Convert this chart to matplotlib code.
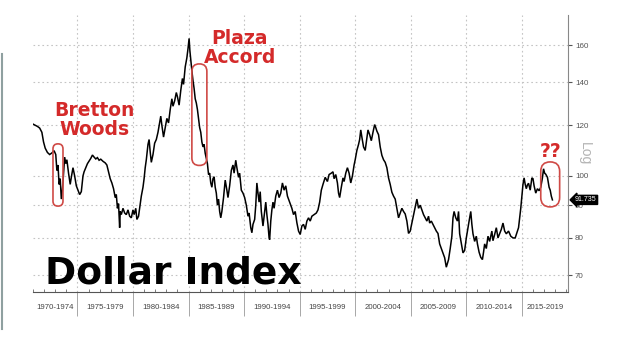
import matplotlib
matplotlib.use("Agg")
import matplotlib.pyplot as plt
import matplotlib.ticker as mticker
from matplotlib.patches import FancyBboxPatch
from matplotlib.lines import Line2D
from matplotlib.transforms import IdentityTransform

# Dollar index (DXY) readings, decimal year -> index level
years = [
    1971.0, 1971.2, 1971.4, 1971.6, 1971.8, 1971.95, 1972.1, 1972.3, 1972.5, 1972.7,
    1972.9, 1973.05, 1973.15, 1973.25, 1973.35, 1973.45, 1973.55, 1973.65, 1973.75, 1973.85,
    1973.95, 1974.05, 1974.2, 1974.35, 1974.45, 1974.6, 1974.75, 1974.9, 1975.05, 1975.2,
    1975.35, 1975.5, 1975.6, 1975.75, 1975.9, 1976.05, 1976.2, 1976.35, 1976.5, 1976.65,
    1976.8, 1976.95, 1977.1, 1977.3, 1977.5, 1977.65, 1977.8, 1977.95, 1978.1, 1978.25,
    1978.4, 1978.5, 1978.6, 1978.7, 1978.8, 1978.85, 1978.95, 1979.1, 1979.25, 1979.4,
    1979.55, 1979.7, 1979.85, 1980.0, 1980.1, 1980.25, 1980.35, 1980.5, 1980.6, 1980.75,
    1980.9, 1981.0, 1981.1, 1981.2, 1981.35, 1981.45, 1981.55, 1981.65, 1981.8, 1981.95,
    1982.1, 1982.25, 1982.4, 1982.5, 1982.6, 1982.75, 1982.9, 1983.05, 1983.2, 1983.35,
    1983.5, 1983.6, 1983.75, 1983.9, 1984.0, 1984.15, 1984.3, 1984.45, 1984.55, 1984.7,
    1984.85, 1984.95, 1985.05, 1985.12, 1985.2, 1985.3, 1985.4, 1985.5, 1985.6, 1985.7,
    1985.8, 1985.9, 1986.0, 1986.1, 1986.2, 1986.3, 1986.4, 1986.5, 1986.6, 1986.7,
    1986.8, 1986.9, 1987.0, 1987.1, 1987.2, 1987.3, 1987.4, 1987.5, 1987.6, 1987.7,
    1987.8, 1987.9, 1988.0, 1988.15, 1988.3, 1988.45, 1988.55, 1988.7, 1988.85, 1989.0,
    1989.1, 1989.25, 1989.35, 1989.5, 1989.6, 1989.75, 1989.9, 1990.05, 1990.2, 1990.35,
    1990.45, 1990.6, 1990.7, 1990.8, 1990.95, 1991.05, 1991.15, 1991.25, 1991.35, 1991.45,
    1991.55, 1991.7, 1991.8, 1991.95, 1992.05, 1992.15, 1992.25, 1992.3, 1992.4, 1992.5,
    1992.6, 1992.7, 1992.85, 1993.0, 1993.15, 1993.3, 1993.45, 1993.6, 1993.75, 1993.9,
    1994.1, 1994.3, 1994.45, 1994.6, 1994.75, 1994.9, 1995.05, 1995.2, 1995.35, 1995.5,
    1995.65, 1995.8, 1995.95, 1996.1, 1996.3, 1996.5, 1996.65, 1996.8, 1996.95, 1997.1,
    1997.3, 1997.5, 1997.65, 1997.85, 1998.0, 1998.1, 1998.25, 1998.4, 1998.5, 1998.6,
    1998.75, 1998.9, 1999.0, 1999.15, 1999.3, 1999.45, 1999.6, 1999.75, 1999.9, 2000.0,
    2000.15, 2000.3, 2000.4, 2000.5, 2000.6, 2000.75, 2000.9, 2001.0, 2001.15, 2001.3,
    2001.45, 2001.6, 2001.75, 2001.85, 2001.95, 2002.1, 2002.25, 2002.4, 2002.55, 2002.7,
    2002.85, 2003.0, 2003.15, 2003.3, 2003.45, 2003.6, 2003.75, 2003.9, 2004.05, 2004.2,
    2004.35, 2004.5, 2004.65, 2004.8, 2004.95, 2005.1, 2005.25, 2005.4, 2005.55, 2005.7,
    2005.85, 2006.0, 2006.15, 2006.3, 2006.45, 2006.6, 2006.7, 2006.85, 2007.0, 2007.15,
    2007.3, 2007.45, 2007.6, 2007.75, 2007.9, 2008.05, 2008.2, 2008.3, 2008.4, 2008.55,
    2008.7, 2008.8, 2008.9, 2009.05, 2009.2, 2009.3, 2009.4, 2009.55, 2009.7, 2009.85,
    2010.0, 2010.1, 2010.25, 2010.4, 2010.5, 2010.6, 2010.75, 2010.9, 2011.0, 2011.15,
    2011.3, 2011.45, 2011.55, 2011.65, 2011.8, 2011.95, 2012.1, 2012.3, 2012.4, 2012.55,
    2012.7, 2012.85, 2013.0, 2013.15, 2013.3, 2013.45, 2013.6, 2013.8, 2014.0, 2014.2,
    2014.4, 2014.55, 2014.7, 2014.8, 2014.9, 2015.0, 2015.1, 2015.2, 2015.3, 2015.4,
    2015.5, 2015.6, 2015.75, 2015.9, 2016.0, 2016.1, 2016.25, 2016.4, 2016.55, 2016.7,
    2016.85, 2016.95, 2017.05, 2017.15, 2017.3, 2017.45, 2017.55, 2017.65, 2017.75,
]
dxy = [
    120.5, 120.0, 119.5, 118.8, 117.0, 113.0, 110.5, 108.8, 108.0, 108.6,
    109.5, 108.0, 102.0, 104.0, 97.0, 99.0, 92.0, 95.0, 101.0, 107.0,
    104.5, 106.0, 101.0, 97.0, 99.5, 103.0, 100.0, 96.5, 95.0, 93.5,
    94.5, 100.0, 101.5, 103.0, 104.5, 105.5, 106.5, 107.8, 107.0, 106.3,
    106.8, 105.8, 106.2, 105.4, 104.8, 104.0, 101.5, 99.0, 97.5, 95.5,
    92.5, 93.5, 89.0, 90.5, 83.0, 88.0, 87.0, 89.0, 87.5, 87.0,
    88.5, 86.5, 86.0, 88.5, 87.0, 89.0, 85.5, 86.5, 89.0, 93.0,
    96.0, 99.0, 103.0, 106.0, 112.0, 114.0, 109.0, 105.0, 108.0, 112.5,
    114.0, 117.0, 121.0, 124.0, 120.0, 115.0, 119.0, 123.0, 121.0, 127.0,
    132.0, 128.5, 131.0, 135.0, 133.0, 129.0, 136.0, 142.0, 139.0, 148.0,
    153.0, 158.0, 164.0, 157.0, 152.0, 146.0, 141.0, 137.0, 132.0, 130.0,
    127.0, 123.0, 119.0, 117.0, 113.0, 111.0, 112.0, 108.5, 106.5, 104.5,
    100.5, 101.0, 97.5, 96.0, 99.0, 99.7, 96.0, 94.0, 90.0, 92.0,
    88.0, 86.0, 88.0, 92.5, 98.5, 95.0, 92.5, 96.5, 102.0, 104.0,
    101.0, 105.8, 103.0, 99.5, 101.0, 95.0, 94.0, 92.5, 90.0, 86.5,
    87.5, 83.0, 81.5, 84.0, 85.5, 90.0, 97.5, 94.0, 91.0, 94.5,
    88.0, 83.5, 86.5, 91.0, 87.0, 84.0, 80.0, 79.5, 85.0, 88.5,
    91.0, 89.0, 93.0, 95.0, 92.5, 94.0, 97.5, 95.0, 96.5, 93.0,
    91.0, 89.0, 87.0, 88.0, 84.5, 82.0, 81.0, 83.5, 84.0, 82.5,
    85.0, 86.0, 85.0, 86.5, 87.0, 87.5, 88.5, 91.0, 95.0, 97.0,
    99.5, 98.0, 100.5, 101.0, 101.5, 99.0, 100.5, 97.5, 94.0, 92.5,
    96.0, 99.3, 98.0, 101.0, 103.0, 101.0, 97.5, 100.0, 104.0, 106.0,
    109.6, 112.0, 114.0, 118.0, 115.0, 111.0, 109.6, 113.0, 118.0, 116.0,
    113.5, 117.0, 120.3, 119.0, 117.5, 116.0, 111.0, 107.7, 106.0, 105.0,
    103.0, 99.3, 97.0, 94.3, 93.0, 92.0, 89.0, 86.0, 87.5, 89.0,
    88.0, 87.2, 85.0, 81.3, 82.0, 84.4, 87.0, 89.5, 92.0, 89.0,
    90.0, 88.5, 87.0, 86.0, 85.0, 86.5, 84.4, 85.0, 84.0, 83.0,
    82.0, 81.3, 78.3, 77.0, 75.8, 74.5, 72.0, 73.0, 74.0, 77.0,
    80.5, 86.0, 88.0, 86.0, 85.0, 88.0, 81.2, 78.5, 75.8, 76.5,
    80.0, 82.0, 85.0, 88.0, 84.0, 81.2, 79.0, 80.5, 78.3, 76.0,
    74.6, 74.0, 76.0, 78.3, 77.0, 80.5, 79.0, 82.0, 79.2, 81.0,
    83.0, 80.0, 81.2, 82.5, 84.4, 82.0, 81.2, 82.0, 80.5, 80.0,
    80.0, 81.5, 83.0, 86.0, 89.0, 93.0, 97.0, 99.3, 97.0, 95.5,
    96.8, 97.4, 95.0, 99.3, 99.0, 96.5, 94.0, 95.5, 94.8, 96.0,
    99.3, 102.6, 101.0, 100.6, 99.5, 96.0, 95.0, 93.0, 91.735,
]

period_labels = ["1970-1974", "1975-1979", "1980-1984", "1985-1989", "1990-1994",
                 "1995-1999", "2000-2004", "2005-2009", "2010-2014", "2015-2019"]
period_starts = [1970, 1975, 1980, 1985, 1990, 1995, 2000, 2005, 2010, 2015]
y_ticks = [70, 80, 90, 100, 120, 140, 160]

# highlighted episodes: label, window of years circled, label anchor (year, level)
episodes = [
    ("Bretton\nWoods", 1972.8, 1973.7, 1976.5, 131.0),
    ("Plaza\nAccord", 1985.3, 1986.65, 1989.6, 169.5),
    ("??", 2016.7, 2018.4, 2017.6, 113.0),
]

RED = "#d42a2a"
X_MIN, X_MAX = 1971.0, 2019.15
Y_MIN, Y_MAX = 65.85, 178.4

fig = plt.figure(figsize=(6.2, 3.39), dpi=100)
ax = fig.add_axes([0.0532, 0.1386, 0.8629, 0.817])

ax.plot(years, dxy, color="black", lw=1.1, solid_joinstyle="miter", zorder=3)

ax.set_yscale("log")
ax.set_xlim(X_MIN, X_MAX)
ax.set_ylim(Y_MIN, Y_MAX)

# right-hand log axis
ax.yaxis.tick_right()
ax.set_yticks(y_ticks)
ax.yaxis.set_major_formatter(mticker.FormatStrFormatter("%d"))
ax.yaxis.set_minor_locator(mticker.NullLocator())
ax.tick_params(axis="y", which="major", length=3, width=0.8, color="#555555",
               labelsize=5.8, labelcolor="#555555", pad=2)
for lab in ax.get_yticklabels():
    lab.set_family("Liberation Sans")

# bottom axis: long separators between periods, little ticks per year
ax.set_xticks(period_starts[1:])
ax.xaxis.set_major_formatter(mticker.NullFormatter())
ax.xaxis.set_minor_locator(mticker.MultipleLocator(1))
ax.tick_params(axis="x", which="major", direction="out", length=17, width=0.6,
               color="#999999")
ax.tick_params(axis="x", which="minor", direction="in", length=2.5, width=0.6,
               color="#666666")

for start, label in zip(period_starts, period_labels):
    lo = max(start, X_MIN)
    hi = min(start + 5, X_MAX)
    ax.text((lo + hi) / 2, -0.055, label, transform=ax.get_xaxis_transform(),
            ha="center", va="center", fontsize=5.6, color="#444444",
            family="Liberation Sans")

ax.grid(True, which="major", ls=(0, (1.5, 2.5)), color="#c4c4c4", lw=0.8)
ax.set_axisbelow(True)

for side in ("top", "left"):
    ax.spines[side].set_visible(False)
ax.spines["right"].set_color("#888888")
ax.spines["right"].set_linewidth(0.8)
ax.spines["bottom"].set_color("#555555")
ax.spines["bottom"].set_linewidth(0.8)

ax.text(1.032, 0.50, "Log", transform=ax.transAxes, rotation=270,
        ha="center", va="center", fontsize=10, color="#b4b4b4",
        family="Liberation Sans")

# last value tag
ax.annotate(f"{dxy[-1]:.3f}", xy=(1.0, dxy[-1]), xycoords=("axes fraction", "data"),
            xytext=(5, 0), textcoords="offset points", ha="left", va="center",
            fontsize=5, color="white", family="Liberation Sans", zorder=6,
            bbox=dict(boxstyle="larrow,pad=0.15", fc="black", ec="black"),
            annotation_clip=False)

# red capsules round each episode, sized from the data inside the window
fig.canvas.draw()
for label, x0, x1, tx, ty in episodes:
    seg = [v for t, v in zip(years, dxy) if x0 <= t <= x1]
    hi_v, lo_v = max(seg) * 1.025, min(seg) * 0.975
    (px0, py0) = ax.transData.transform((x0, lo_v))
    (px1, py1) = ax.transData.transform((x1, hi_v))
    w, h = px1 - px0, py1 - py0
    cap = FancyBboxPatch((px0, py0), w, h,
                         boxstyle=f"round,pad=0,rounding_size={w / 2:.2f}",
                         transform=IdentityTransform(), fill=False,
                         ec="#cf4a46", lw=1.2, zorder=5, clip_on=False)
    ax.add_artist(cap)
    ax.text(tx, ty, label, ha="center", va="top", fontsize=13.5,
            fontweight="bold", color=RED, linespacing=1.0, zorder=6)

fig.text(45 / 620, 1 - 283 / 339, "Dollar Index", ha="left", va="baseline",
         fontsize=27, fontweight="bold", color="black")

# thin grey edge on the left of the frame
fig.add_artist(Line2D([0.0025, 0.0025], [0.03, 0.84], transform=fig.transFigure,
                      color="#8fa0a0", lw=1.5))

fig.savefig("out.png", dpi=100, facecolor="white")
